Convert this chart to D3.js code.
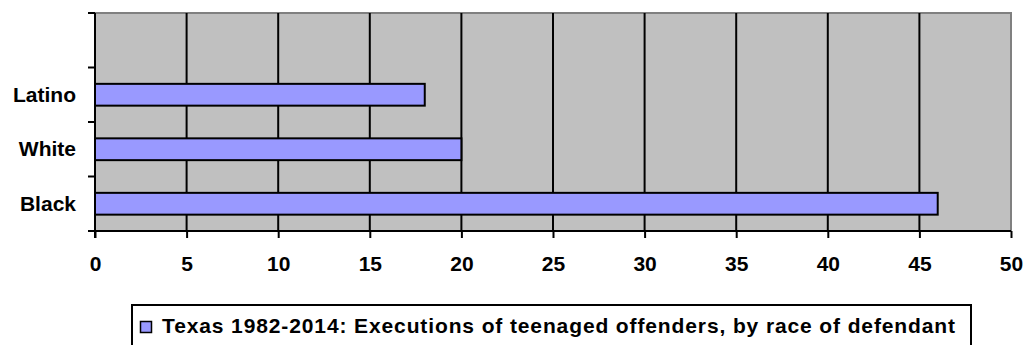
<!DOCTYPE html>
<html>
<head>
<meta charset="utf-8">
<script src="https://cdn.jsdelivr.net/npm/d3@7"></script>
<style>
  html, body { margin: 0; padding: 0; background: #ffffff; }
  svg { display: block; }
  text { font-family: Arial, "Liberation Sans", sans-serif; font-weight: bold; fill: #000; }
</style>
</head>
<body>
<svg id="chart" width="1034" height="345"></svg>
<script>
// ---- data ----
const categories = ["Black", "White", "Latino"];
const values = [46, 20, 18];
const xTicks = [0, 5, 10, 15, 20, 25, 30, 35, 40, 45, 50];
const legendLabel = "Texas 1982-2014: Executions of teenaged offenders, by race of defendant";

const svg = d3.select("#chart");
const m = { left: 95, right: 1011, top: 13, bottom: 231 };
const FS = 21;

const x = d3.scaleLinear().domain([0, 50]).range([m.left, m.right]);
// top slot left empty, as in the reference
const yDomain = ["", ...categories.slice().reverse()];
const y = d3.scaleBand().domain(yDomain).range([m.top, m.bottom])
  .paddingInner(0.6).paddingOuter(0.3);

// plot background
svg.append("rect")
  .attr("x", m.left).attr("y", m.top)
  .attr("width", m.right - m.left).attr("height", m.bottom - m.top)
  .attr("fill", "#C0C0C0");

// top / right gray border
svg.append("path")
  .attr("d", `M${m.left},${m.top}H${m.right}V${m.bottom}`)
  .attr("fill", "none").attr("stroke", "#808080").attr("stroke-width", 2);

// vertical gridlines
svg.append("g").selectAll("line")
  .data(xTicks.filter(d => d > 0 && d < 50))
  .join("line")
  .attr("x1", d => x(d)).attr("x2", d => x(d))
  .attr("y1", m.top).attr("y2", m.bottom)
  .attr("stroke", "#000").attr("stroke-width", 2);

// bars
const data = categories.map((c, i) => ({ c, v: values[i] }));
svg.append("g").selectAll("rect")
  .data(data)
  .join("rect")
  .attr("x", x(0))
  .attr("y", d => y(d.c))
  .attr("width", d => x(d.v) - x(0))
  .attr("height", y.bandwidth())
  .attr("fill", "#9999FF")
  .attr("stroke", "#000").attr("stroke-width", 2);

// x axis
const xAxis = d3.axisBottom(x).tickValues(xTicks).tickSize(7).tickPadding(6)
  .tickFormat(d3.format("d"));
const gx = svg.append("g").attr("transform", `translate(0,${m.bottom})`).call(xAxis);
gx.select(".domain").attr("stroke", "#000").attr("stroke-width", 2)
  .attr("d", `M${m.left},0H${m.right}`);
gx.selectAll(".tick line").attr("stroke", "#000").attr("stroke-width", 2);
gx.selectAll(".tick text")
  .attr("font-size", FS).attr("font-family", "Arial, 'Liberation Sans', sans-serif")
  .attr("font-weight", "bold").attr("fill", "#000")
  .attr("dy", null).attr("y", 39.5);

// y axis (line + ticks at band boundaries)
svg.append("line")
  .attr("x1", m.left).attr("x2", m.left)
  .attr("y1", m.top).attr("y2", m.bottom + 7)
  .attr("stroke", "#000").attr("stroke-width", 2);
const boundaries = yDomain.map(d => y(d) - y.step() * y.paddingInner() / 2);
boundaries.push(m.bottom);
svg.append("g").selectAll("line")
  .data(boundaries)
  .join("line")
  .attr("x1", m.left - 7).attr("x2", m.left)
  .attr("y1", d => d).attr("y2", d => d)
  .attr("stroke", "#000").attr("stroke-width", 2);

// category labels
svg.append("g").selectAll("text")
  .data(categories)
  .join("text")
  .attr("x", 76)
  .attr("y", d => y(d) + y.bandwidth() / 2 + 7)
  .attr("text-anchor", "end")
  .attr("font-size", FS)
  .text(d => d);

// legend
const lg = svg.append("g");
lg.append("rect")
  .attr("x", 132).attr("y", 305).attr("width", 839).attr("height", 45)
  .attr("fill", "#fff").attr("stroke", "#000").attr("stroke-width", 2);
lg.append("rect")
  .attr("x", 140.5).attr("y", 321.5).attr("width", 11).attr("height", 11)
  .attr("fill", "#9999FF").attr("stroke", "#000").attr("stroke-width", 1.5);
lg.append("text")
  .attr("x", 162).attr("y", 333)
  .attr("font-size", FS)
  .attr("textLength", 793).attr("lengthAdjust", "spacing")
  .text(legendLabel);
</script>
</body>
</html>
